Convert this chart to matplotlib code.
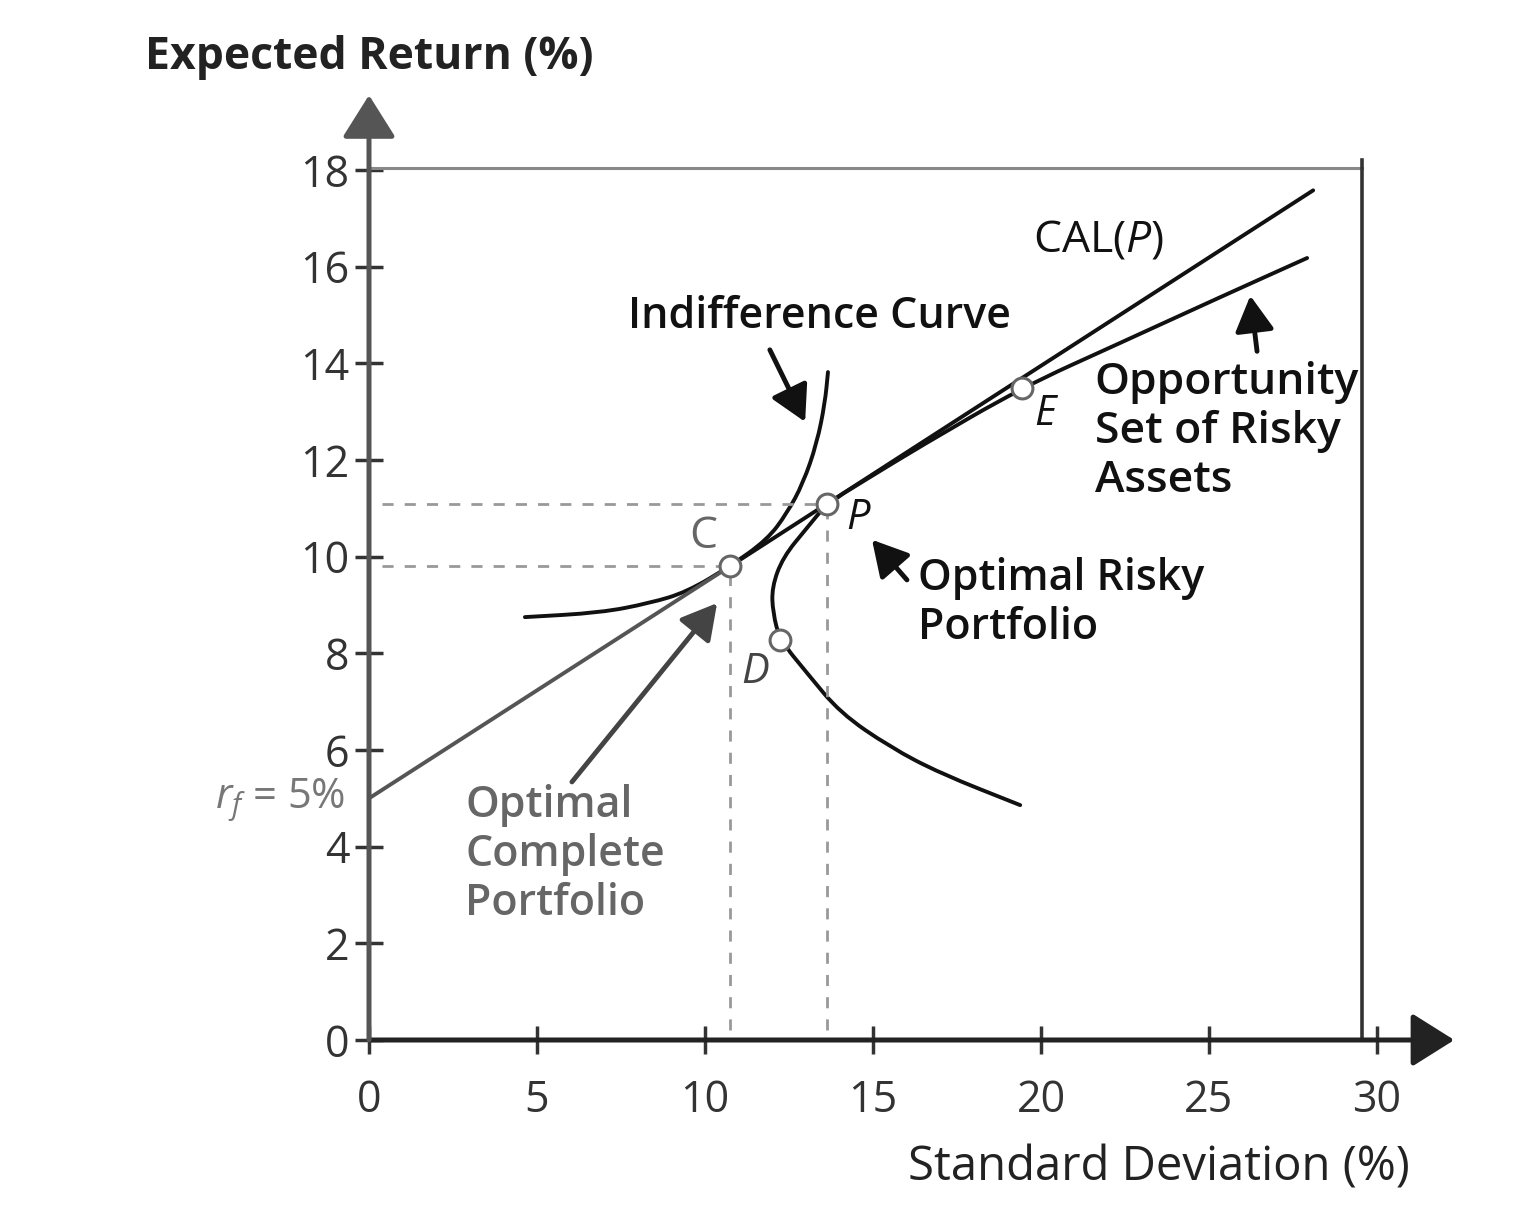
import numpy as np
import matplotlib.pyplot as plt
from matplotlib.path import Path
from matplotlib.patches import PathPatch

plt.rcParams['font.family'] = ['Open Sans', 'DejaVu Sans']
plt.rcParams['mathtext.fontset'] = 'custom'
plt.rcParams['mathtext.rm'] = 'Open Sans'
plt.rcParams['mathtext.it'] = 'Open Sans:italic'

# tick values
sd_ticks = [0, 5, 10, 15, 20, 25, 30]
er_ticks = [0, 2, 4, 6, 8, 10, 12, 14, 16, 18]

# capital allocation line (rf -> C -> end)
cal_sd = [0.0, 10.74, 28.1]
cal_er = [5.0, 9.8, 17.58]

# opportunity set of risky assets
opp_sd = [19.38, 16.99, 15.51, 14.02, 13.04, 12.23, 12.02, 11.99, 12.32,
          13.04, 13.63, 14.8, 16.4, 19.43, 22.35, 25.33, 27.92]
opp_er = [4.86, 5.52, 6.06, 6.77, 7.59, 8.28, 8.84, 9.37, 9.99,
          10.6, 11.1, 11.6, 12.28, 13.5, 14.42, 15.37, 16.18]

# indifference curve
ind_sd = [4.64, 6.88, 8.36, 9.46, 10.74, 11.85, 12.44, 12.92, 13.33, 13.57, 13.66]
ind_er = [8.75, 8.84, 9.04, 9.27, 9.8, 10.35, 10.9, 11.52, 12.35, 13.18, 13.82]

# marked portfolios C, P, D, E
pt_sd = [10.74, 13.63, 12.23, 19.43]
pt_er = [9.8, 11.1, 8.28, 13.5]


def smooth(ax, xs, ys, **kw):
    # quadratic bezier through the midpoints of the read points
    p = np.column_stack([xs, ys])
    verts = [p[0], (p[0] + p[1]) / 2]
    codes = [Path.MOVETO, Path.LINETO]
    for i in range(1, len(p) - 1):
        verts += [p[i], (p[i] + p[i + 1]) / 2]
        codes += [Path.CURVE3, Path.CURVE3]
    verts.append(p[-1])
    codes.append(Path.LINETO)
    ax.add_patch(PathPatch(Path(verts, codes), fill=False, capstyle='round', **kw))


fig = plt.figure(figsize=(15.36, 12.24), dpi=100)
ax = fig.add_axes([369/1536, 184/1224, 32.5*33.6/1536, 19.8*48.33/1224])
ax.set_xlim(0, 32.5)
ax.set_ylim(0, 19.8)
for s in ax.spines.values():
    s.set_visible(False)

ax.set_xticks(sd_ticks)
ax.set_yticks(er_ticks)
ax.tick_params(direction='inout', length=20, width=2.5, color='#333',
               labelsize=31, labelcolor='#333')
ax.tick_params(axis='x', pad=18)
ax.tick_params(axis='y', pad=4)

# axes with arrow heads
arr = dict(arrowstyle='-|>,head_length=0.35,head_width=0.22', lw=3.6,
           color='#222', mutation_scale=75, shrinkA=0, shrinkB=0)
ax.annotate('', xy=(32.3, 0), xytext=(0, 0), arrowprops=arr, annotation_clip=False)
arr_y = dict(arr, color='#555')
ax.annotate('', xy=(0, 19.55), xytext=(0, 0), arrowprops=arr_y, annotation_clip=False)

# frame
ax.plot([0, 29.55], [18.05, 18.05], color='#888', lw=2.2)
ax.plot([29.55, 29.55], [0, 18.2], color='#333', lw=2.6)

# dashed guides to C and P
C_sd, C_er = pt_sd[0], pt_er[0]
P_sd, P_er = pt_sd[1], pt_er[1]
dash = dict(ls=(0, (4, 4)), color='#999', lw=2)
ax.plot([0.4, C_sd], [C_er, C_er], **dash)
ax.plot([0.4, P_sd], [P_er, P_er], **dash)
ax.plot([C_sd, C_sd], [0.2, C_er], **dash)
ax.plot([P_sd, P_sd], [0.2, P_er], **dash)

# curves
ax.plot(cal_sd[:2], cal_er[:2], color='#555', lw=2.8, solid_capstyle='round')
ax.plot(cal_sd[1:], cal_er[1:], color='#111', lw=2.8, solid_capstyle='round')
smooth(ax, opp_sd, opp_er, color='#111', lw=2.8)
smooth(ax, ind_sd, ind_er, color='#111', lw=2.8)
ax.plot(pt_sd, pt_er, 'o', ms=15, mfc='white', mec='#666', mew=2.2, zorder=5)

# point labels
ax.text(9.94, 10.41, 'C', fontsize=32, color='#666', ha='center', va='center')
ax.text(14.55, 10.8, 'P', fontsize=30, style='italic', color='#111', ha='center', va='center')
ax.text(11.49, 7.61, 'D', fontsize=30, style='italic', color='#444', ha='center', va='center')
ax.text(20.12, 12.95, 'E', fontsize=30, style='italic', color='#111', ha='center', va='center')

ax.text(19.76, 16.55, r'CAL($\mathit{P}$)', fontsize=32, color='#111', ha='left', va='center')
ax.text(13.42, 14.98, 'Indifference Curve', fontsize=31, fontweight='semibold',
        color='#111', ha='center', va='center')
ax.text(21.6, 14.05, 'Opportunity\nSet of Risky\nAssets', fontsize=32, fontweight='semibold',
        color='#111', ha='left', va='top', linespacing=1.18)
ax.text(16.34, 10.0, 'Optimal Risky\nPortfolio', fontsize=31, fontweight='semibold',
        color='#111', ha='left', va='top', linespacing=1.2)
ax.text(2.86, 5.3, 'Optimal\nComplete\nPortfolio', fontsize=31, fontweight='semibold',
        color='#666', ha='left', va='top', linespacing=1.18)
ax.text(-0.71, 4.97, r'$r_f$ = 5%', fontsize=30, color='#777', ha='right', va='center')

# pointer arrows
parr = dict(arrowstyle='-|>,head_length=0.45,head_width=0.25', lw=3.5,
            color='#111', mutation_scale=48, shrinkA=0, shrinkB=0)
ax.annotate('', xy=(12.98, 12.79), xytext=(11.93, 14.28), arrowprops=parr)
ax.annotate('', xy=(26.23, 15.4), xytext=(26.43, 14.25), arrowprops=parr)
ax.annotate('', xy=(14.97, 10.35), xytext=(16.01, 9.52), arrowprops=parr)
parr2 = dict(parr, color='#444')
ax.annotate('', xy=(10.36, 9.04), xytext=(6.04, 5.34), arrowprops=parr2)

# axis titles
fig.text(145/1536, 1 - 57/1224, 'Expected Return (%)', fontsize=32, fontweight='bold',
         color='#222', ha='left', va='center')
fig.text(1410/1536, 1 - 1168/1224, 'Standard Deviation (%)', fontsize=34,
         color='#222', ha='right', va='center')

fig.savefig('out.png', dpi=100, facecolor='white')
